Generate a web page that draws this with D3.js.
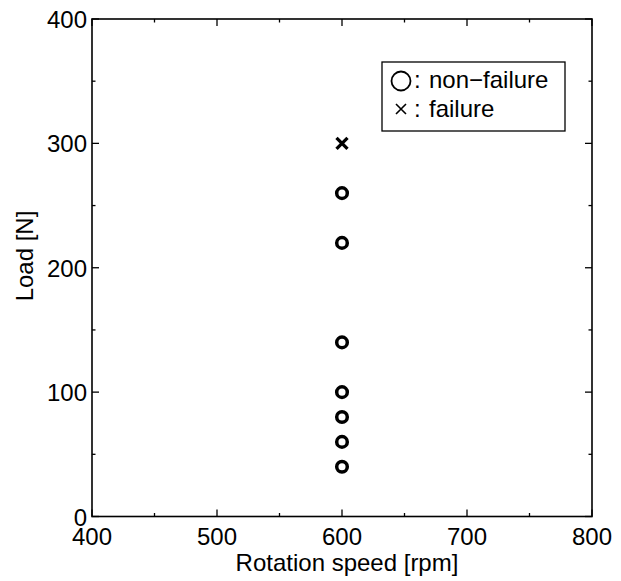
<!DOCTYPE html>
<html><head><meta charset="utf-8">
<script src="https://cdn.jsdelivr.net/npm/d3@7"></script>
<style>body{margin:0;background:#fff}svg{display:block}</style>
</head><body>
<script>
const speeds = [600, 600, 600, 600, 600, 600, 600];
const loadsNonFailure = [260, 220, 140, 100, 80, 60, 40];
const failureSpeeds = [600];
const loadsFailure = [300];
const xTicks = [400, 500, 600, 700, 800];
const yTicks = [0, 100, 200, 300, 400];
const xMinor = [450, 550, 650, 750];
const yMinor = [50, 150, 250, 350];
const legendLabels = ["non\u2212failure", "failure"];

const W = 621, H = 581;
const m = {l: 92, r: 30, t: 19, b: 64};
const svg = d3.select("body").append("svg").attr("width", W).attr("height", H);
const x = d3.scaleLinear().domain([400, 800]).range([m.l, W - m.r + 1]);
const y = d3.scaleLinear().domain([0, 400]).range([H - m.b - 0.5, m.t]);
const font = "'Liberation Sans', Arial, sans-serif";
const fs = 24;

const g = svg.append("g");
g.append("rect").attr("x", x(400)).attr("y", y(400)).attr("width", x(800) - x(400)).attr("height", y(0) - y(400))
  .attr("fill", "none").attr("stroke", "#000").attr("stroke-width", 1.6);

const tickLine = (x1, y1, x2, y2) => g.append("line").attr("x1", x1).attr("y1", y1).attr("x2", x2).attr("y2", y2).attr("stroke", "#000").attr("stroke-width", 1.3);
xTicks.forEach(v => { tickLine(x(v), y(0), x(v), y(0) - 7); tickLine(x(v), y(400), x(v), y(400) + 7); });
xMinor.forEach(v => { tickLine(x(v), y(0), x(v), y(0) - 3.5); tickLine(x(v), y(400), x(v), y(400) + 3.5); });
yTicks.forEach(v => { tickLine(x(400), y(v), x(400) + 7, y(v)); tickLine(x(800), y(v), x(800) - 7, y(v)); });
yMinor.forEach(v => { tickLine(x(400), y(v), x(400) + 3.5, y(v)); tickLine(x(800), y(v), x(800) - 3.5, y(v)); });

g.selectAll(".xl").data(xTicks).enter().append("text")
  .attr("x", d => x(d)).attr("y", y(0) + 28.5).attr("text-anchor", "middle")
  .attr("font-family", font).attr("font-size", fs).text(d => d);
g.selectAll(".yl").data(yTicks).enter().append("text")
  .attr("x", x(400) - 5).attr("y", d => y(d) + 9).attr("text-anchor", "end")
  .attr("font-family", font).attr("font-size", fs).text(d => d);

svg.append("text").attr("x", 347).attr("y", 571).attr("text-anchor", "middle")
  .attr("font-family", font).attr("font-size", fs).text("Rotation speed [rpm]");
svg.append("text").attr("transform", `translate(33,256) rotate(-90)`).attr("text-anchor", "middle")
  .attr("font-family", font).attr("font-size", fs).text("Load [N]");

g.selectAll(".nf").data(loadsNonFailure).enter().append("circle")
  .attr("cx", (d, i) => x(speeds[i])).attr("cy", d => y(d)).attr("r", 5.3)
  .attr("fill", "none").attr("stroke", "#000").attr("stroke-width", 3.5);
failureSpeeds.forEach((s, i) => {
  const cx = x(s), cy = y(loadsFailure[i]), k = 5.5;
  g.append("path").attr("d", `M${cx - k},${cy - k}L${cx + k},${cy + k}M${cx - k},${cy + k}L${cx + k},${cy - k}`)
    .attr("stroke", "#000").attr("stroke-width", 3.3).attr("fill", "none");
});

const lg = svg.append("g");
lg.append("rect").attr("x", 382).attr("y", 62).attr("width", 183).attr("height", 69)
  .attr("fill", "#fff").attr("stroke", "#000").attr("stroke-width", 1.3);
lg.append("circle").attr("cx", 401).attr("cy", 81).attr("r", 9.5).attr("fill", "none").attr("stroke", "#000").attr("stroke-width", 1.8);
lg.append("path").attr("d", "M396,104L406,114M396,114L406,104").attr("stroke", "#000").attr("stroke-width", 1.6);
[88, 117].forEach((by, i) => {
  lg.append("text").attr("x", 414).attr("y", by).attr("font-family", font).attr("font-size", fs).text(":");
  lg.append("text").attr("x", 429).attr("y", by).attr("font-family", font).attr("font-size", fs).text(legendLabels[i]);
});
</script>
</body></html>
